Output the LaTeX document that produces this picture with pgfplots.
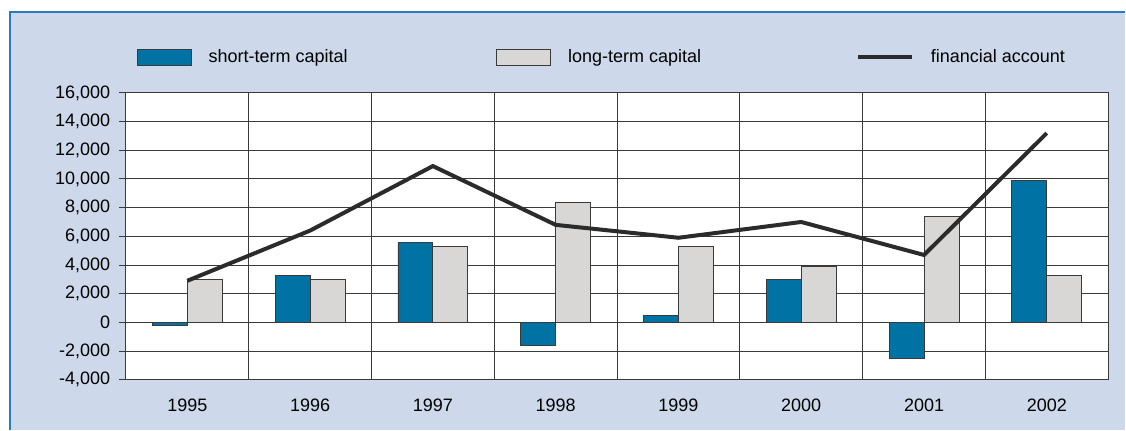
\documentclass[border=0pt]{standalone}
\usepackage{fontspec}
\setmainfont{Liberation Sans}
\usepackage{pgfplots}
\pgfplotsset{compat=1.18}
\definecolor{bgblue}{HTML}{CDD9EA}
\definecolor{frameblue}{HTML}{2A7BC0}
\definecolor{stblue}{HTML}{0072A3}
\definecolor{ltgray}{HTML}{D9D6D6}
\definecolor{fadark}{HTML}{2B2B2B}
\definecolor{gridc}{HTML}{3A3A3A}
\pgfplotsset{
  barleg/.style={legend image code/.code={\draw[##1] (0pt,-6pt) rectangle (40.5pt,6pt);}},
  lineleg/.style={legend image code/.code={\draw[##1] (0pt,0pt) -- (40.5pt,0pt);}},
}

\begin{document}
\begin{tikzpicture}
% page and panel
\fill[white] (0pt,0pt) rectangle (844.5pt,-322.5pt);
\fill[bgblue] (7.5pt,-9pt) rectangle (844.5pt,-322.5pt);
\draw[frameblue,line width=1.2pt] (7.5pt,-322.5pt) -- (7.5pt,-9pt) -- (844.5pt,-9pt);
\begin{axis}[
  at={(94.5pt,-285pt)},anchor=south west,
  scale only axis,width=737.25pt,height=215.25pt,
  font=\fontsize{13.5}{16}\selectfont,
  axis background/.style={fill=white},
  axis line style={gridc,line width=0.8pt},
  ybar,bar width=26.25pt,
  xmin=-0.5,xmax=7.5,ymin=-4000,ymax=16000,
  xtick={0,...,7},
  xticklabels={1995,1996,1997,1998,1999,2000,2001,2002},
  minor xtick={-0.5,0.5,...,7.5},
  xminorgrids=true,
  ytick={-4000,-2000,...,16000},
  scaled y ticks=false,
  ymajorgrids=true,
  grid style={gridc,line width=0.75pt},
  minor grid style={gridc,line width=0.75pt},
  tick align=outside,ytick pos=left,
  major tick length=5.25pt,minor tick length=0pt,
  xtick style={draw=none},
  ytick style={gridc,line width=0.75pt},
  /pgf/number format/fixed,
  /pgf/number format/1000 sep={,},
  /pgf/number format/assume math mode=true,
  xticklabel style={yshift=-6pt},
  yticklabel style={xshift=-3pt},
  legend columns=3,
  legend style={at={(0.0112,1.125)},anchor=west,draw=none,fill=none,
    inner sep=0pt,outer sep=0pt,
    nodes={inner sep=0pt,anchor=west},
    /tikz/every odd column/.append style={column sep=12.75pt},
    /tikz/every even column/.append style={column sep=0pt}},
]
\addplot[fill=stblue,draw=gridc,line width=0.6pt,bar shift=-13.125pt,barleg]
  coordinates {(0,-200) (1,3300) (2,5600) (3,-1600) (4,500) (5,3000) (6,-2500) (7,9900)};
\addlegendentry{\makebox[216pt][l]{short-term capital}}
\addplot[fill=ltgray,draw=gridc,line width=0.6pt,bar shift=13.125pt,barleg]
  coordinates {(0,3000) (1,3000) (2,5300) (3,8400) (4,5300) (5,3900) (6,7400) (7,3300)};
\addlegendentry{\makebox[216pt][l]{long-term capital}}
\addplot[sharp plot,draw=fadark,line width=3pt,mark=none,lineleg]
  coordinates {(0,2900) (1,6400) (2,10900) (3,6800) (4,5900) (5,7000) (6,4700) (7,13200)};
\addlegendentry{financial account}
\end{axis}
\end{tikzpicture}
\end{document}
